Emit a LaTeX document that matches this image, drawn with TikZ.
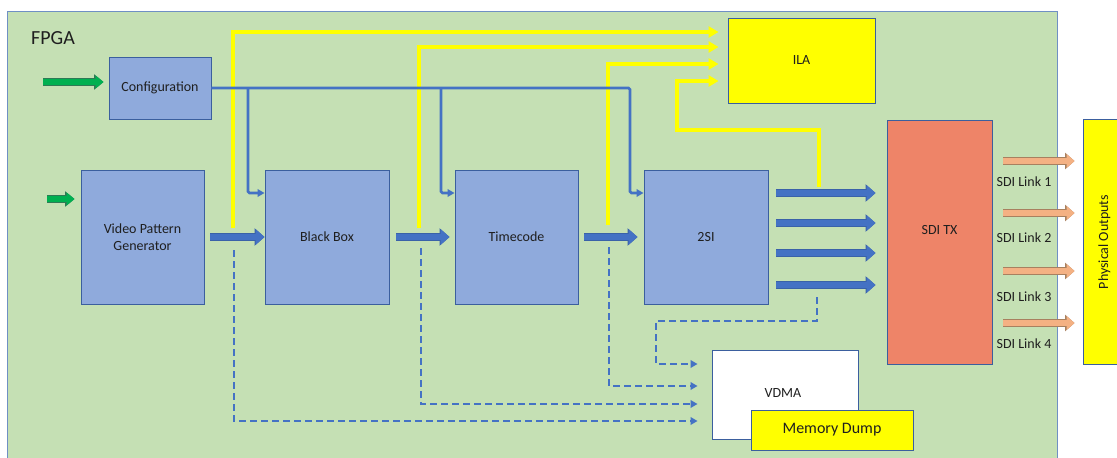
\documentclass[tikz,border=0pt]{standalone}
\usepackage{fontspec}
\setmainfont{Carlito}
\usetikzlibrary{arrows.meta}
\definecolor{fpgabg}{HTML}{C5E0B4}
\definecolor{fpgaedge}{HTML}{6F8FC4}
\definecolor{boxfill}{HTML}{8FAADC}
\definecolor{boxedge}{HTML}{3B5F9E}
\definecolor{bline}{HTML}{4472C4}
\definecolor{bedge}{HTML}{3A62A8}
\definecolor{yel}{HTML}{FFFF00}
\definecolor{sdifill}{HTML}{EE8468}
\definecolor{ofill}{HTML}{F4B183}
\definecolor{oedge}{HTML}{A8805F}
\definecolor{gfill}{HTML}{00B050}
\definecolor{gedge}{HTML}{2F7A55}
\definecolor{txt}{HTML}{1F1F1F}
\tikzset{
  box/.style={draw=boxedge, fill=boxfill, line width=0.9pt, inner sep=0pt, text=txt,
    font=\fontsize{14}{17}\selectfont, align=center},
  lbl/.style={text=txt, font=\fontsize{14}{17}\selectfont, inner sep=0pt},
  blk/.style={draw=bline, line width=6.5pt, -{Triangle[length=9pt,width=15pt]},
    preaction={draw=bedge, line width=7.6pt, -{Triangle[length=10pt,width=17pt]}}},
  oarr/.style={draw=ofill, line width=6pt, -{Triangle[length=8pt,width=13.5pt]},
    preaction={draw=oedge, line width=7.4pt, -{Triangle[length=9.5pt,width=16pt]}}},
  garr/.style={draw=gfill, line width=6pt, -{Triangle[length=8pt,width=12.5pt]},
    preaction={draw=gedge, line width=7.4pt, -{Triangle[length=9.5pt,width=15pt]}}},
  cfg/.style={draw=bline, line width=2.8pt, rounded corners=1.5pt, -{Triangle[length=7pt,width=7.5pt]}},
  yline/.style={draw=yel, line width=4pt, -{Triangle[length=10pt,width=11pt]}},
  dline/.style={draw=bline, line width=2.8pt, dash pattern=on 7pt off 4pt, -{Triangle[length=7pt,width=7.5pt]}},
}
\begin{document}
\begin{tikzpicture}[x=1pt,y=-1pt]
\useasboundingbox (0,0) rectangle (1117,458);
\clip (0,0) rectangle (1117,458);
\fill[white] (0,0) rectangle (1117,458);
% FPGA area
\filldraw[fill=fpgabg, draw=fpgaedge, line width=1pt] (7,11) rectangle (1057,470);
\node[anchor=west, text=txt, font=\fontsize{20}{24}\selectfont, inner sep=0pt] (fpgalbl) at (31,38) {FPGA};

% boxes
\node[box, minimum width=102pt, minimum height=62pt] (config) at (160,88) {Configuration};
\node[box, minimum width=123pt, minimum height=134pt] (vpg) at (142.5,237) {Video Pattern\\Generator};
\node[box, minimum width=124pt, minimum height=134pt] (bb) at (327,237) {Black Box};
\node[box, minimum width=123pt, minimum height=134pt] (tc) at (516.5,237) {Timecode};
\node[box, minimum width=124pt, minimum height=134pt] (s2si) at (706,237) {2SI};
\node[box, fill=yel, draw=boxedge, minimum width=147pt, minimum height=85pt] (ila) at (801.5,60.5) {ILA};
\node[box, fill=sdifill, minimum width=105pt, minimum height=244pt] (sditx) at (939.5,242) {};
\node[lbl] (sditxlbl) at (939.5,230) {SDI TX};
\node[box, fill=yel, minimum width=46pt, minimum height=245pt] (phys) at (1106,241.5) {};
\node[lbl, rotate=90] (physlbl) at (1104.5,242) {Physical Outputs};
\node[box, fill=white, minimum width=146pt, minimum height=89pt] (vdma) at (785,394.5) {};
\node[lbl] (vdmalbl) at (783,393) {VDMA};
\node[box, fill=yel, minimum width=162pt, minimum height=40pt, font=\fontsize{16}{19}\selectfont] (mem) at (832,430) {Memory Dump};

% row coordinates
\coordinate (r1) at (0,193);
\coordinate (r2) at (0,223);
\coordinate (r3) at (0,253);
\coordinate (r4) at (0,285);
\coordinate (q1) at (0,161);
\coordinate (q2) at (0,213);
\coordinate (q3) at (0,271);
\coordinate (q4) at (0,323);
\coordinate (l1) at (0,32);
\coordinate (l2) at (0,47);
\coordinate (l3) at (0,64);
\coordinate (l4) at (0,81);
\coordinate (e1) at (0,421);
\coordinate (e2) at (0,404);
\coordinate (e3) at (0,386);
\coordinate (e4) at (0,364);

% yellow probe lines
\coordinate (y1) at (233,228);
\coordinate (y2) at (419,228);
\coordinate (y3) at (608,225);
\coordinate (y4) at (819,187);
\coordinate (y4b) at (677,130);
\draw[yline, shorten >=9pt] (y1) |- (ila.west |- l1);
\draw[yline, shorten >=9pt] (y2) |- (ila.west |- l2);
\draw[yline, shorten >=9pt] (y3) |- (ila.west |- l3);
\draw[yline, shorten >=9pt] (y4) |- (y4b) |- (ila.west |- l4);

% configuration bus
\coordinate (j1) at (248,193);
\coordinate (j2) at (441,193);
\coordinate (j3) at (630,193);
\draw[cfg] (config.east) -| (j3) -- (s2si.west |- j3);
\draw[cfg] (config.east -| j1) -- (j1) -- (bb.west |- j1);
\draw[cfg] (config.east -| j2) -- (j2) -- (tc.west |- j2);

% green inputs
\coordinate (g1) at (43,82);
\coordinate (g2) at (47,199);
\draw[garr, shorten >=5pt] (g1) -- (config.west |- g1);
\draw[garr, shorten >=6pt] (g2) -- (vpg.west |- g2);

% video path
\draw[blk, shorten <=6pt] (vpg.east) -- (bb.west);
\draw[blk, shorten <=7pt, shorten >=5pt] (bb.east) -- (tc.west);
\draw[blk, shorten <=6pt, shorten >=6pt] (tc.east) -- (s2si.west);
\foreach \r in {r1,r2,r3,r4}
  \draw[blk, shorten <=8pt, shorten >=11pt] (s2si.east |- \r) -- (sditx.west |- \r);

% SDI links
\foreach \q in {q1,q2,q3,q4}
  \draw[oarr, shorten <=11pt, shorten >=8pt] (sditx.east |- \q) -- (phys.west |- \q);
\node[lbl] (sl1) at (1024,182) {SDI Link 1};
\node[lbl] (sl2) at (1024,238) {SDI Link 2};
\node[lbl] (sl3) at (1024,297) {SDI Link 3};
\node[lbl] (sl4) at (1024,344) {SDI Link 4};

% dashed capture paths
\coordinate (d1) at (234,250);
\coordinate (d2) at (421,248);
\coordinate (d3) at (609,247);
\coordinate (d4) at (817,297);
\coordinate (d4b) at (656,321);
\draw[dline, shorten >=14pt] (d1) |- (vdma.west |- e1);
\draw[dline, shorten >=14pt] (d2) |- (vdma.west |- e2);
\draw[dline, shorten >=14pt] (d3) |- (vdma.west |- e3);
\draw[dline, shorten >=14pt] (d4) |- (d4b) |- (vdma.west |- e4);
\end{tikzpicture}
\end{document}
